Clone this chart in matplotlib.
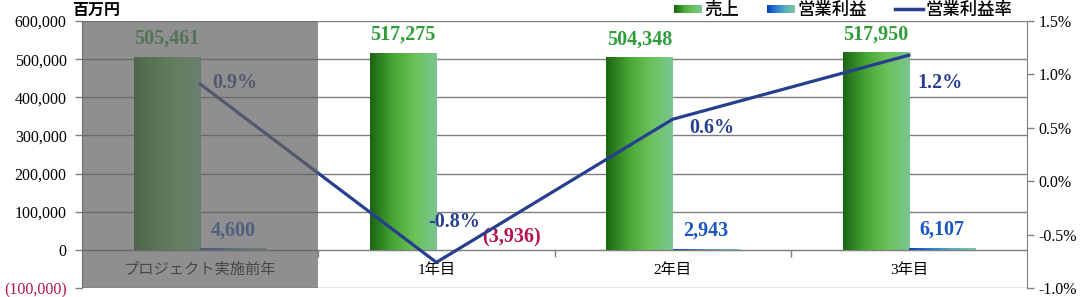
import matplotlib
matplotlib.use('Agg')
import matplotlib.pyplot as plt
import numpy as np
from matplotlib.colors import LinearSegmentedColormap
from matplotlib.legend_handler import HandlerBase
from matplotlib.patches import Rectangle
from matplotlib.lines import Line2D

plt.rcParams['font.family'] = ['Liberation Serif', 'Noto Sans CJK JP', 'DejaVu Sans']

# データ
categories = ['プロジェクト実施前年', '1年目', '2年目', '3年目']
sales = [505461, 517275, 504348, 517950]
profit = [4600, -3936, 2943, 6107]
ratio = [0.0091, -0.0076, 0.0058, 0.0118]
ratio_labels = ['0.9%', '-0.8%', '0.6%', '1.2%']
left_ticks = [-100000, 0, 100000, 200000, 300000, 400000, 500000, 600000]
right_ticks = [-0.010, -0.005, 0.0, 0.005, 0.010, 0.015]

# 色・スタイル
sales_colors = ['#1b6412', '#45a534', '#6cc25a', '#7ac592']
profit_colors = ['#0a46b8', '#2a7bd2', '#5ab2b6', '#7cc4a2']
line_color = '#263f8e'
sales_text = '#2e9e3a'
profit_text = '#1a55c0'
neg_text = '#b5124f'
ratio_offsets = [(35, 1), (18, 40), (39, -9), (31, -28)]  # pixels

W, H = 1081, 297
fig = plt.figure(figsize=(W / 100, H / 100), dpi=100)
ax = fig.add_axes([82 / W, 1 - 288 / H, (1027 - 82) / W, (288 - 21) / H])
ax2 = ax.twinx()

x = np.arange(len(categories))
bw = 0.28
cmap_s = LinearSegmentedColormap.from_list('s', sales_colors)
cmap_p = LinearSegmentedColormap.from_list('p', profit_colors)
grad = np.linspace(0, 1, 256).reshape(1, -1)

b1 = ax.bar(x - bw / 2, sales, bw, color=sales_colors[2], zorder=2)
b2 = ax.bar(x + bw / 2, profit, bw, color=profit_colors[2], zorder=2)
for bars, cm in [(b1, cmap_s), (b2, cmap_p)]:
    for p in bars:
        x0, y0 = p.get_x(), p.get_y()
        x1, y1 = x0 + p.get_width(), y0 + p.get_height()
        im = ax.imshow(grad, cmap=cm, aspect='auto', extent=[x0, x1, min(y0, y1), max(y0, y1)], zorder=2.1)
        im.set_clip_path(p)

ax.set_xlim(-0.5, len(categories) - 0.5)
ax.set_ylim(left_ticks[0], left_ticks[-1])
ax.set_yticks(left_ticks)
ax.set_yticklabels([f'({-v:,})' if v < 0 else f'{v:,}' for v in left_ticks], fontsize=11.5)
ax.yaxis.grid(True, color='#808080', lw=1, zorder=0)
ax.set_axisbelow(True)
ax.set_xticks([0.5, 1.5, 2.5])
ax.set_xticklabels([])
ax.spines['bottom'].set_position(('data', 0))
ax.spines['bottom'].set_color('#808080')
ax.spines['left'].set_color('#808080')
ax.spines['top'].set_visible(False)
ax.spines['right'].set_visible(False)
ax.tick_params(axis='both', colors='#808080', length=5, width=1, labelcolor='black')
ax.tick_params(axis='y', pad=6)
ax.get_yticklabels()[0].set_color(neg_text)

for i, c in enumerate(categories):
    ax.text(x[i], -52000, c, ha='center', va='center', fontsize=11,
            family=['Liberation Serif', 'Noto Sans CJK JP'], zorder=3)

for i, v in enumerate(sales):
    ax.annotate(f'{v:,}', (x[i] - bw / 2, v), xytext=(0, 8), textcoords='offset pixels',
                ha='center', va='bottom', fontsize=14.5, fontweight='bold', color=sales_text, zorder=4)
for i, v in enumerate(profit):
    if v < 0:
        ax.annotate(f'({-v:,})', (x[i] + bw / 2, 0), xytext=(42, 12), textcoords='offset pixels',
                    ha='center', va='center', fontsize=14.5, fontweight='bold', color=neg_text, zorder=4)
    else:
        ax.annotate(f'{v:,}', (x[i] + bw / 2, v), xytext=(0, 8), textcoords='offset pixels',
                    ha='center', va='bottom', fontsize=14.5, fontweight='bold', color=profit_text, zorder=4)

# 営業利益率
ax2.plot(x, ratio, color=line_color, lw=2.3, zorder=3)
for i, v in enumerate(ratio):
    ax2.annotate(ratio_labels[i], (x[i], v), xytext=ratio_offsets[i], textcoords='offset pixels',
                 ha='center', va='center', fontsize=14.5, fontweight='bold', color=line_color, zorder=4)
ax2.set_ylim(right_ticks[0], right_ticks[-1])
ax2.set_yticks(right_ticks)
ax2.set_yticklabels([f'{v * 100:.1f}%' for v in right_ticks], fontsize=11.5)
for s in ['top', 'bottom', 'left']:
    ax2.spines[s].set_visible(False)
ax2.spines['right'].set_color('#808080')
ax2.tick_params(axis='y', colors='#808080', length=5, width=1, labelcolor='black')

# プロジェクト実施前年の網掛け
ax2.axvspan(-0.5, 0.5, color='#646464', alpha=0.72, lw=0, zorder=10)


class GradientHandler(HandlerBase):
    def __init__(self, colors, n=30):
        super().__init__()
        self.cm = LinearSegmentedColormap.from_list('g', colors)
        self.n = n

    def create_artists(self, legend, orig_handle, xdescent, ydescent, width, height, fontsize, trans):
        arts = []
        hh = height * 0.7
        for k in range(self.n):
            r = Rectangle((-xdescent + width * k / self.n, -ydescent + (height - hh) / 2),
                          width / self.n + 0.3, hh, color=self.cm(k / (self.n - 1)), lw=0,
                          transform=trans)
            arts.append(r)
        return arts


h_s = Rectangle((0, 0), 1, 1)
h_p = Rectangle((0, 0), 1, 1)
h_l = Line2D([], [], color=line_color, lw=2.5)
fig.legend([h_s, h_p, h_l], ['売上', '営業利益', '営業利益率'],
           handler_map={h_s: GradientHandler(sales_colors), h_p: GradientHandler(profit_colors)},
           loc='center right', bbox_to_anchor=(1012 / W, 1 - 10 / H), ncol=3, frameon=False,
           prop={'family': ['Noto Sans CJK JP'], 'size': 12.5, 'weight': 'medium'},
           handlelength=1.6, handletextpad=0.15, columnspacing=1.6, borderpad=0, borderaxespad=0)

fig.text(72 / W, 1 - 10 / H, '百万円', ha='left', va='center', fontsize=11.5,
         family=['Noto Sans CJK JP'], fontweight='bold')

fig.savefig('out.png', dpi=100)
